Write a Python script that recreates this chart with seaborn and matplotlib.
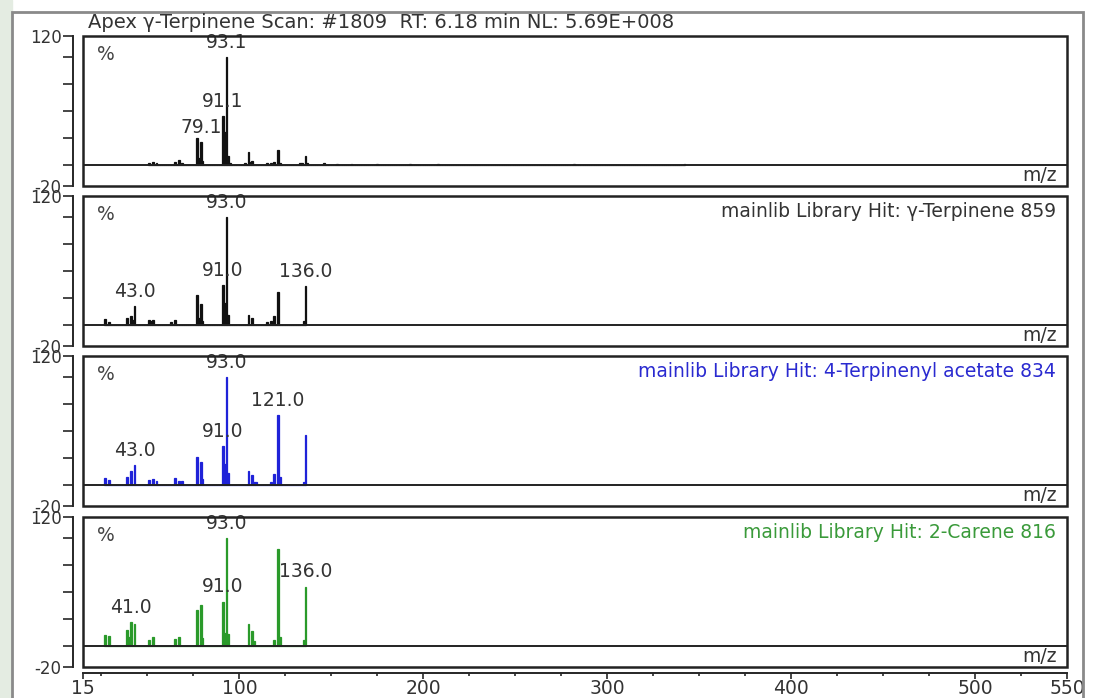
import matplotlib
matplotlib.use('Agg')
import matplotlib.pyplot as plt
from matplotlib.patches import Rectangle
import seaborn as sns

sns.set_style('ticks')
plt.rcParams['font.family'] = ['DejaVu Sans']

# spectra (m/z, relative intensity %)
apex_mz = [51, 53, 55, 65, 67, 69, 77, 78, 79, 80, 91, 92, 93, 94, 95, 103, 105, 106, 107,
           115, 117, 119, 121, 122, 133, 134, 136, 137, 146, 153, 161, 175, 193, 208, 282, 342]
apex_int = [1.5, 2.5, 1, 2, 4, 1, 25, 6, 21, 3, 45, 30, 100, 8, 1.5, 1.5, 12, 2, 3,
            1.5, 1.5, 2, 14, 1.5, 1, 1.5, 8, 1, 1, 0.8, 0.8, 0.8, 0.8, 0.8, 0.8, 0.8]
apex_labels = [79.1, 91.1, 93.1]

terp_mz = [27, 29, 39, 41, 42, 43, 51, 52, 53, 63, 65, 77, 78, 79, 80, 91, 92, 93, 94,
           105, 107, 115, 117, 119, 121, 135, 136]
terp_int = [5, 2, 6, 8, 4, 17, 4, 3, 4, 2, 4, 28, 6, 19, 3, 37, 20, 100, 9,
            9, 6, 2, 3, 8, 30, 3, 36]
terp_labels = [43.0, 91.0, 93.0, 136.0]

acet_mz = [27, 29, 39, 41, 43, 51, 53, 55, 65, 67, 69, 77, 79, 80, 91, 92, 93, 94,
           105, 107, 108, 109, 117, 119, 121, 122, 135, 136]
acet_int = [6, 4, 7, 13, 18, 4, 5, 3, 6, 3, 3, 26, 21, 5, 36, 19, 100, 11,
            13, 9, 2, 2, 2, 10, 65, 7, 2, 46]
acet_labels = [43.0, 91.0, 93.0, 121.0]

car_mz = [27, 29, 39, 40, 41, 43, 51, 53, 65, 67, 77, 79, 80, 91, 92, 93, 94,
          105, 107, 108, 119, 121, 122, 135, 136]
car_int = [10, 9, 15, 8, 22, 20, 5, 8, 6, 8, 33, 38, 7, 41, 12, 100, 11,
           20, 14, 4, 5, 90, 8, 5, 55]
car_labels = [41.0, 91.0, 93.0, 136.0]

title = 'Apex \u03b3-Terpinene Scan: #1809  RT: 6.18 min NL: 5.69E+008'
hits = ['', 'mainlib Library Hit: \u03b3-Terpinene 859',
        'mainlib Library Hit: 4-Terpinenyl acetate 834',
        'mainlib Library Hit: 2-Carene 816']
colors = ['#111111', '#111111', '#1f22d8', '#2a9a2a']
text_colors = ['#333333', '#333333', '#2a2ad0', '#3a9a3a']

panels = [(apex_mz, apex_int, apex_labels), (terp_mz, terp_int, terp_labels),
          (acet_mz, acet_int, acet_labels), (car_mz, car_int, car_labels)]

W, H = 1093, 698
PT = 72 / 100  # points per pixel
fig = plt.figure(figsize=(W / 100, H / 100), dpi=100)

# slide background strip and outer frame
fig.patches.append(Rectangle((0, 0), 12 / W, 1, transform=fig.transFigure,
                             color='#e4ece2', zorder=0))
fig.patches.append(Rectangle((12 / W, -0.02), 1071 / W, 1 - 12 / H + 0.02,
                             transform=fig.transFigure, fill=False,
                             ec='#8a8a8a', lw=2, zorder=1))

fig.text(88 / W, 1 - 23 / H, title, ha='left', va='center', fontsize=14, color='#333333')

tops = [36, 196, 356, 517]
for i, (mz, inten, labs) in enumerate(panels):
    ax = fig.add_axes([83 / W, (H - tops[i] - 150) / H, 984 / W, 150 / H])
    sns.histplot(x=mz, weights=inten, discrete=True, color=colors[i], alpha=1,
                 linewidth=0.9, edgecolor=colors[i], shrink=1, ax=ax)
    ax.set_xlim(15, 550)
    ax.set_ylim(-20, 120)
    ax.axhline(0, color='#222222', lw=1.4, zorder=1)
    ax.add_patch(Rectangle((0, 0), 1, 1, transform=ax.transAxes, fill=False,
                           ec='#222222', lw=1.8, clip_on=False, zorder=5))
    ax.set_xlabel('')
    ax.set_ylabel('')
    for s in ['top', 'right']:
        ax.spines[s].set_visible(False)
    ax.spines['left'].set_position(('outward', 10 * PT))
    ax.spines['left'].set_linewidth(1.4)
    ax.set_yticks([-20, 0, 25, 50, 75, 100, 120])
    ax.set_yticklabels(['-20', '', '', '', '', '', '120'])
    ax.tick_params(axis='y', direction='out', length=10 * PT, width=1.2, pad=1,
                   labelsize=12, labelcolor='#333333', left=True)
    if i < 3:
        ax.spines['bottom'].set_visible(False)
        ax.set_xticks([])
    else:
        ax.spines['bottom'].set_position(('outward', 6 * PT))
        ax.spines['bottom'].set_linewidth(1.4)
        ax.set_xticks([15, 100, 200, 300, 400, 500, 550])
        ax.set_xticks(list(range(25, 550, 25)), minor=True)
        ax.tick_params(axis='x', which='major', direction='out', length=6 * PT, width=1.2,
                       labelsize=13.5, labelcolor='#333333', pad=0, bottom=True)
        ax.tick_params(axis='x', which='minor', direction='out', length=3 * PT, width=1.2,
                       bottom=True)

    ax.text(0.014, 0.94, '%', transform=ax.transAxes, ha='left', va='top',
            fontsize=13.5, color='#444444')
    ax.text(0.99, -1.0, 'm/z', transform=ax.get_yaxis_transform(), ha='right', va='top',
            fontsize=13.5, color='#333333')
    if hits[i]:
        ax.text(0.989, 0.895, hits[i], transform=ax.transAxes, ha='right', va='center',
                fontsize=13.5, color=text_colors[i])

    for lab in labs:
        peak = inten[mz.index(int(round(lab)))]
        ax.text(lab, peak + 5, f'{lab:.1f}', ha='center', va='bottom',
                fontsize=13.5, color='#333333')

fig.savefig('out.png', dpi=100)
